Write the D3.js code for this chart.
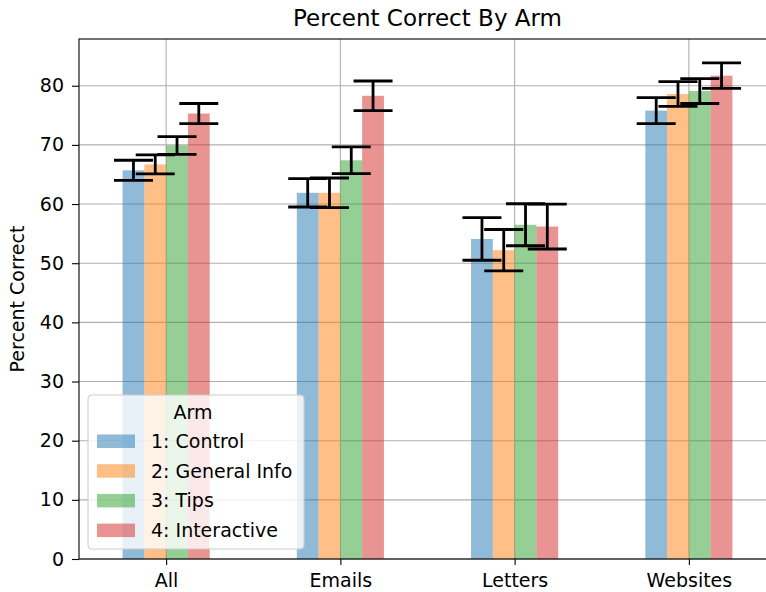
<!DOCTYPE html>
<html>
<head>
<meta charset="utf-8">
<script src="https://cdn.jsdelivr.net/npm/d3@7"></script>
<style>
  body { margin: 0; background: #fff; }
  svg { display: block; font-family: "DejaVu Sans", sans-serif; }
</style>
</head>
<body>
<svg id="chart" width="766" height="592"></svg>
<script>
const categories = ["All", "Emails", "Letters", "Websites"];
const arms = ["1: Control", "2: General Info", "3: Tips", "4: Interactive"];
const armColors = ["#1f77b4", "#ff7f0e", "#2ca02c", "#d62728"];

// percent correct per arm, one value per category
const control = [65.7, 61.9, 54.1, 75.8];
const generalInfo = [66.7, 61.9, 52.2, 78.6];
const tips = [69.9, 67.4, 56.5, 79.1];
const interactive = [75.3, 78.3, 56.2, 81.7];

// error bar half widths
const controlErr = [1.7, 2.4, 3.6, 2.2];
const generalInfoErr = [1.6, 2.5, 3.5, 2.1];
const tipsErr = [1.5, 2.25, 3.55, 2.1];
const interactiveErr = [1.7, 2.5, 3.8, 2.15];

const yTicks = [0, 10, 20, 30, 40, 50, 60, 70, 80];

const series = [control, generalInfo, tips, interactive];
const errors = [controlErr, generalInfoErr, tipsErr, interactiveErr];

const AXES = { left: 79, top: 39, right: 776, bottom: 559 };
const BAR_W = 0.125;

let svg = d3.select("#chart");

let x = d3.scaleLinear().domain([-0.5, categories.length - 0.5]).range([AXES.left, AXES.right]);
let y = d3.scaleLinear().domain([0, 87.9]).range([AXES.bottom, AXES.top]);

// Grid
let grid = svg.append("g");
grid.selectAll("line.gy")
  .data(yTicks)
  .join("line")
  .attr("x1", AXES.left).attr("x2", AXES.right)
  .attr("y1", (d) => y(d)).attr("y2", (d) => y(d))
  .style("stroke", "#b0b0b0").style("stroke-width", 1.1);
grid.selectAll("line.gx")
  .data(categories)
  .join("line")
  .attr("x1", (d, i) => x(i)).attr("x2", (d, i) => x(i))
  .attr("y1", AXES.top).attr("y2", AXES.bottom)
  .style("stroke", "#b0b0b0").style("stroke-width", 1.1);

// Bars
series.forEach((vals, s) => {
  let off = (s - 1.5) * BAR_W;
  svg.append("g")
    .selectAll("rect")
    .data(vals)
    .join("rect")
    .attr("x", (d, i) => x(i + off - BAR_W / 2))
    .attr("width", x(BAR_W) - x(0))
    .attr("y", (d) => y(d))
    .attr("height", (d) => y(0) - y(d))
    .style("fill", armColors[s])
    .style("fill-opacity", 0.5);
});

// Error bars
const CAP = 19.5;
series.forEach((vals, s) => {
  let off = (s - 1.5) * BAR_W;
  let g = svg.append("g").style("stroke", "#000").style("stroke-width", 2.8);
  vals.forEach((v, i) => {
    let cx = x(i + off);
    let lo = v - errors[s][i];
    let hi = v + errors[s][i];
    g.append("line").attr("x1", cx).attr("x2", cx).attr("y1", y(lo)).attr("y2", y(hi));
    g.append("line").attr("x1", cx - CAP).attr("x2", cx + CAP).attr("y1", y(lo)).attr("y2", y(lo));
    g.append("line").attr("x1", cx - CAP).attr("x2", cx + CAP).attr("y1", y(hi)).attr("y2", y(hi));
  });
});

// Axes
let yAxis = d3.axisLeft(y).tickValues(yTicks).tickSize(7).tickPadding(8);
let xAxis = d3.axisBottom(x).tickValues(d3.range(categories.length))
  .tickFormat((d) => categories[d]).tickSize(6).tickPadding(9);

let yg = svg.append("g").attr("transform", `translate(${AXES.left},0)`).call(yAxis);
let xg = svg.append("g").attr("transform", `translate(0,${AXES.bottom})`).call(xAxis);
[yg, xg].forEach((g) => {
  g.select(".domain").remove();
  g.selectAll(".tick line").style("stroke", "#000").style("stroke-width", 1.1);
  g.selectAll(".tick text").style("font-size", "19px").style("fill", "#000")
    .style("font-family", "DejaVu Sans, sans-serif");
});

// Spines
svg.append("rect")
  .attr("x", AXES.left).attr("y", AXES.top)
  .attr("width", AXES.right - AXES.left).attr("height", AXES.bottom - AXES.top)
  .style("fill", "none").style("stroke", "#000").style("stroke-width", 1.1);

// Title and label
svg.append("text")
  .attr("x", (AXES.left + AXES.right) / 2).attr("y", 26)
  .attr("text-anchor", "middle")
  .style("font-size", "23px")
  .text("Percent Correct By Arm");

svg.append("text")
  .attr("transform", `translate(24,${(AXES.top + AXES.bottom) / 2}) rotate(-90)`)
  .attr("text-anchor", "middle")
  .style("font-size", "19px")
  .text("Percent Correct");

// Legend
let legend = svg.append("g").attr("transform", "translate(88,395)");
legend.append("rect")
  .attr("width", 216).attr("height", 154).attr("rx", 4)
  .style("fill", "#fff").style("fill-opacity", 0.8)
  .style("stroke", "#cccccc").style("stroke-width", 1.1);
legend.append("text")
  .attr("x", 105).attr("y", 24)
  .attr("text-anchor", "middle")
  .style("font-size", "19px")
  .text("Arm");
arms.forEach((name, i) => {
  let ry = 46 + i * 29.7;
  legend.append("rect")
    .attr("x", 9).attr("y", ry - 6.5)
    .attr("width", 38).attr("height", 13.5)
    .style("fill", armColors[i]).style("fill-opacity", 0.5);
  legend.append("text")
    .attr("x", 63).attr("y", ry + 7)
    .style("font-size", "19px")
    .text(name);
});
</script>
</body>
</html>
